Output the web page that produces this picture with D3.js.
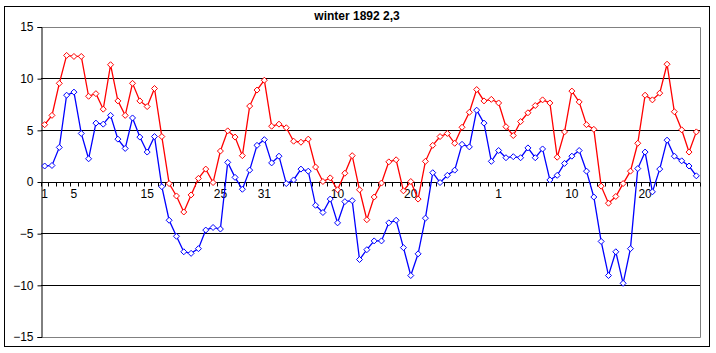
<!DOCTYPE html>
<html>
<head>
<meta charset="utf-8">
<script src="https://cdn.jsdelivr.net/npm/d3@7"></script>
<style>
  html, body { margin: 0; padding: 0; background: #fff; }
  svg { display: block; font-family: "Liberation Sans", Arial, sans-serif; }
</style>
</head>
<body>
<svg id="chart" width="716" height="353"></svg>
<script>
// ---- data ----
const title = "winter 1892 2,3";
const months = [["Dec", 31], ["Jan", 31], ["Feb", 28]];
const categories = months.flatMap(([m, n]) => d3.range(1, n + 1).map(d => m + " " + d));

const seriesRed = [
  5.5, 6.4, 9.5, 12.2, 12.1, 12.1, 8.25, 8.5, 7.0, 11.3,
  7.8, 6.4, 9.5, 7.8, 7.25, 9.0, 4.35, -0.2, -1.4, -2.95,
  -1.3, 0.3, 1.2, -0.1, 2.95, 4.9, 4.3, 2.5, 7.3, 8.85,
  9.8, 5.35, 5.55, 5.2, 3.9, 3.8, 4.1, 1.4, 0, 0.35,
  -0.8, 0.8, 2.5, -0.8, -3.7, -1.5, -0.15, 1.9, 2.1, -0.9,
  0, -1.7, 1.95, 3.5, 4.35, 4.65, 3.7, 5.25, 6.7, 8.9,
  7.8, 7.95, 7.6, 5.3, 4.45, 5.8, 6.65, 7.35, 7.9, 7.6,
  2.35, 4.8, 8.75, 7.7, 5.5, 5.05, -0.45, -2.1, -1.45, -0.2,
  1.0, 3.7, 8.35, 7.9, 8.55, 11.35, 6.75, 5.0, 2.85, 4.8
];
const seriesBlue = [
  1.5, 1.55, 3.3, 8.35, 8.65, 4.65, 2.2, 5.65, 5.55, 6.4,
  4.1, 3.2, 6.15, 4.3, 2.85, 4.35, -0.5, -3.75, -5.3, -6.8,
  -6.95, -6.5, -4.7, -4.45, -4.6, 1.85, 0.4, -0.75, 1.1, 3.5,
  4.05, 1.8, 2.45, -0.2, 0.15, 1.2, 1.0, -2.3, -3.0, -1.7,
  -4.0, -1.95, -1.85, -7.55, -6.6, -5.75, -5.75, -4.0, -3.75, -6.4,
  -9.1, -7.0, -3.55, 0.85, -0.1, 0.6, 1.1, 3.6, 3.35, 6.9,
  5.65, 1.95, 3.0, 2.3, 2.4, 2.3, 3.25, 2.3, 3.15, 0.15,
  0.6, 1.75, 2.45, 3.0, 1.0, -1.5, -5.8, -9.1, -6.8, -9.85,
  -6.5, 1.25, 2.85, -1.0, 1.2, 4.0, 2.45, 2.0, 1.5, 0.55
];
const xTickCats = ["Dec 1", "Dec 5", "Dec 15", "Dec 25", "Dec 31", "Jan 10", "Jan 20", "Feb 1", "Feb 11", "Feb 21"];
const xTickText = ["1", "5", "15", "25", "31", "10", "20", "1", "10", "20"];
const yTicks = [-15, -10, -5, 0, 5, 10, 15];

// ---- layout ----
const svg = d3.select("#chart");
const plot = { left: 41, right: 700, top: 26.5, bottom: 336.5 };

svg.append("rect").attr("x", 4.5).attr("y", 6.5).attr("width", 705).attr("height", 340)
  .attr("fill", "#fff").attr("stroke", "#000").attr("stroke-width", 1);

const x = d3.scaleBand().domain(categories).range([plot.left, plot.right]).paddingInner(0).paddingOuter(0);
const y = d3.scaleLinear().domain([-15, 15]).range([plot.bottom, plot.top]);
const cx = c => x(c) + x.bandwidth() / 2;

// gridlines (black), excluding bounds and zero
svg.append("g").selectAll("line").data(yTicks.filter(v => v !== 0 && Math.abs(v) !== 15)).join("line")
  .attr("x1", plot.left).attr("x2", plot.right)
  .attr("y1", d => Math.round(y(d)) + 0.5).attr("y2", d => Math.round(y(d)) + 0.5)
  .attr("stroke", "#000").attr("stroke-width", 1);

// plot border (gray) top, right, bottom
const pb = svg.append("g").attr("stroke", "#808080").attr("stroke-width", 1).attr("fill", "none");
pb.append("path").attr("d",
  `M${plot.left},${Math.round(y(15)) + 0.5}H${plot.right + 0.5}V${Math.round(y(-15)) + 0.5}H${plot.left}`);

// y axis
const yAxis = d3.axisLeft(y).tickValues(yTicks).tickSize(4).tickPadding(4);
const gy = svg.append("g").attr("transform", `translate(${plot.left + 0.5},0.5)`).call(yAxis);
gy.select(".domain").attr("stroke", "#000");
gy.selectAll(".tick line").attr("stroke", "#000");
gy.selectAll(".tick text").attr("font-size", 12).attr("fill", "#000")
  .attr("font-family", "Liberation Sans, Arial, sans-serif");

// x axis at zero
const y0 = Math.round(y(0)) + 0.5;
const gx = svg.append("g");
gx.append("line").attr("x1", plot.left).attr("x2", plot.right).attr("y1", y0).attr("y2", y0)
  .attr("stroke", "#000");
const bounds = categories.map(c => x(c)).concat([plot.right]);
gx.selectAll("line.tk").data(bounds).join("line").attr("class", "tk")
  .attr("x1", d => Math.round(d) + 0.5).attr("x2", d => Math.round(d) + 0.5)
  .attr("y1", y0).attr("y2", y0 + 4).attr("stroke", "#000");
gx.selectAll("text").data(xTickCats).join("text")
  .attr("x", d => cx(d)).attr("y", y0 + 15)
  .attr("text-anchor", "middle").attr("font-size", 12).attr("fill", "#000")
  .text((d, i) => xTickText[i]);

// series
const line = d3.line().x((d, i) => cx(categories[i])).y(d => y(d));
const diamond = "M0,-3L3,0L0,3L-3,0Z";
function drawSeries(data, color) {
  svg.append("path").datum(data).attr("d", line).attr("fill", "none")
    .attr("stroke", color).attr("stroke-width", 1.3);
  svg.append("g").selectAll("path").data(data).join("path")
    .attr("d", diamond)
    .attr("transform", (d, i) => `translate(${cx(categories[i])},${y(d)})`)
    .attr("fill", "#fff").attr("stroke", color).attr("stroke-width", 1);
}
drawSeries(seriesRed, "#ff0000");
drawSeries(seriesBlue, "#0000ff");

// title
svg.append("text").attr("x", 357).attr("y", 20).attr("text-anchor", "middle")
  .attr("font-size", 12).attr("font-weight", "bold").attr("fill", "#000").text(title);
</script>
</body>
</html>
